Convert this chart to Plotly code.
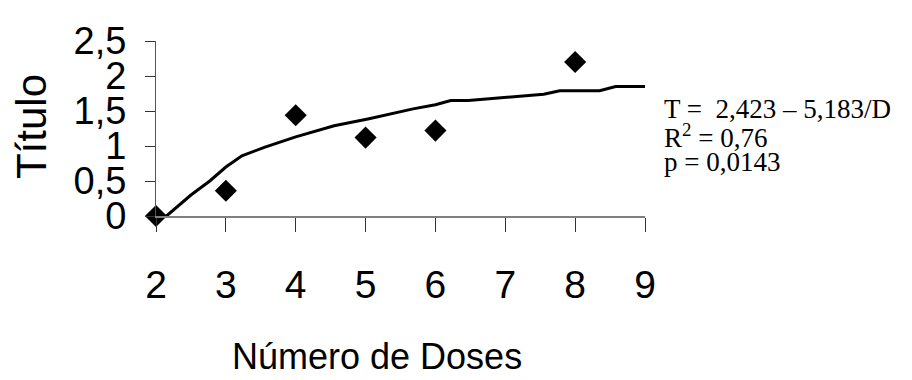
import plotly.graph_objects as go

doses = [2, 3, 4, 5, 6, 8]
titulo = [0.0, 0.36, 1.44, 1.12, 1.22, 2.2]

# Fitted curve as drawn
fit_x = [2.15, 2.5, 2.77, 3.0, 3.23, 3.55, 4.0, 4.55, 5.05, 5.68, 6.0, 6.22, 6.47, 7.55, 7.78, 8.35, 8.58, 9.0]
fit_y = [0.0, 0.30, 0.50, 0.70, 0.86, 0.98, 1.13, 1.29, 1.39, 1.53, 1.59, 1.65, 1.65, 1.74, 1.79, 1.79, 1.85, 1.85]

x_ticks = [2, 3, 4, 5, 6, 7, 8, 9]
y_ticks = [0, 0.5, 1, 1.5, 2, 2.5]
y_ticktext = ["0", "0,5", "1", "1,5", "2", "2,5"]

eq_lines = ["T =  2,423 – 5,183/D", "R<sup>2</sup> = 0,76", "p = 0,0143"]

sans = "Arial, Liberation Sans, sans-serif"
serif = "Times New Roman, Liberation Serif, serif"

# page body margin of 8px shifts the figure; compensate
OFF = 8
L, R, T, B = 156, 645, 35, 216  # plot area in window pixels
W, H = 912 - OFF, 380 - OFF

def px(xw):
    return (xw - L) / (R - L)

def py(yw):
    return (B - yw) / (B - T)

fig = go.Figure()
fig.add_trace(go.Scatter(x=fit_x, y=fit_y, mode="lines",
                         line=dict(color="black", width=3), cliponaxis=False,
                         showlegend=False, hoverinfo="skip"))
fig.add_trace(go.Scatter(x=doses, y=titulo, mode="markers",
                         marker=dict(symbol="diamond", size=17, color="black"),
                         cliponaxis=False, showlegend=False))

fig.update_layout(
    width=W, height=H,
    margin=dict(l=L - OFF, r=W - (R - OFF), t=T - OFF, b=H - (B - OFF)),
    paper_bgcolor="white", plot_bgcolor="white",
    xaxis=dict(range=[2, 9], tickvals=x_ticks, ticks="outside", ticklen=14,
               tickcolor="#333", showline=True, linecolor="#808080", linewidth=2,
               showgrid=False, zeroline=False, tickfont=dict(family=sans, size=39, color="black"),
               ticklabelstandoff=19),
    yaxis=dict(range=[0, 2.5], tickvals=y_ticks, ticktext=y_ticktext, ticks="outside", ticklen=10,
               tickcolor="#333", showline=True, linecolor="#555", linewidth=1,
               showgrid=False, zeroline=False, tickfont=dict(family=sans, size=38, color="black"),
               ticklabelstandoff=11),
)

fig.add_annotation(text="Número de Doses", xref="paper", yref="paper",
                   x=px(376.5), y=py(361),
                   xanchor="center", yanchor="middle", showarrow=False,
                   font=dict(family=sans, size=36, color="black"))
fig.add_annotation(text="Título", xref="paper", yref="paper",
                   x=px(31), y=py(124),
                   xanchor="center", yanchor="middle", showarrow=False, textangle=-90,
                   font=dict(family=sans, size=42, color="black"))

for line, ypx in zip(eq_lines, [105, 133, 160]):
    fig.add_annotation(text=line, xref="paper", yref="paper",
                       x=px(662), y=py(ypx),
                       xanchor="left", yanchor="middle", showarrow=False,
                       font=dict(family=serif, size=27, color="black"))

fig.write_html("out.html")
